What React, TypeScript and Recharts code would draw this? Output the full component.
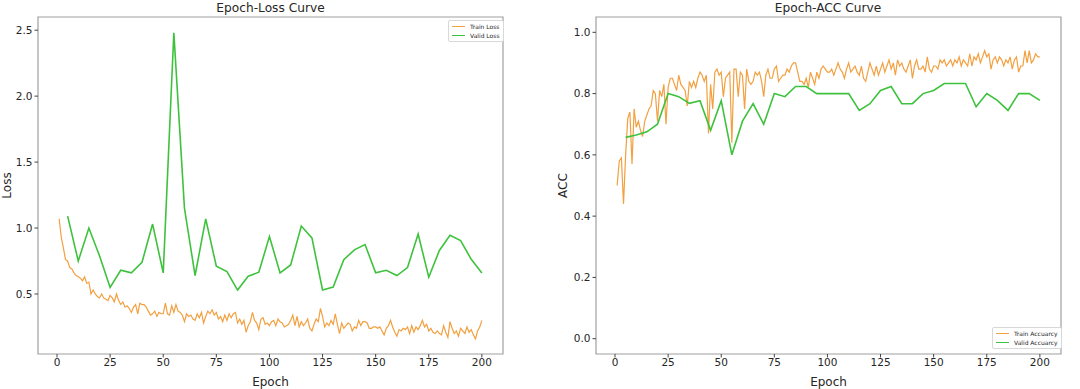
import React from 'react';
import { LineChart, Line, XAxis, YAxis, ReferenceArea, Legend } from 'recharts';

const epochs: number[] = Array.from({ length: 200 }, (_, i) => i + 1);
const validEpochs: number[] = [5, 10, 15, 20, 25, 30, 35, 40, 45, 50, 55, 60, 65, 70, 75, 80, 85, 90, 95, 100, 105, 110, 115, 120, 125, 130, 135, 140, 145, 150, 155, 160, 165, 170, 175, 180, 185, 190, 195, 200];

const trainLoss: number[] = [
  1.07, 0.93, 0.85, 0.76, 0.75, 0.70, 0.69, 0.66, 0.64, 0.63,
  0.62, 0.60, 0.63, 0.58, 0.59, 0.50, 0.53, 0.50, 0.48, 0.47,
  0.50, 0.47, 0.46, 0.45, 0.49, 0.47, 0.44, 0.50, 0.45, 0.42,
  0.44, 0.40, 0.41, 0.39, 0.36, 0.40, 0.42, 0.35, 0.43, 0.42,
  0.42, 0.40, 0.37, 0.34, 0.35, 0.37, 0.33, 0.36, 0.35, 0.35,
  0.43, 0.35, 0.34, 0.41, 0.36, 0.42, 0.37, 0.36, 0.34, 0.29,
  0.35, 0.33, 0.34, 0.31, 0.30, 0.35, 0.32, 0.36, 0.28, 0.33,
  0.37, 0.35, 0.38, 0.34, 0.36, 0.31, 0.33, 0.29, 0.34, 0.30,
  0.35, 0.32, 0.35, 0.36, 0.28, 0.31, 0.27, 0.30, 0.21, 0.26,
  0.29, 0.36, 0.30, 0.28, 0.23, 0.31, 0.32, 0.27, 0.28, 0.26,
  0.29, 0.30, 0.26, 0.31, 0.29, 0.28, 0.25, 0.26, 0.27, 0.30,
  0.34, 0.26, 0.33, 0.25, 0.29, 0.26, 0.28, 0.31, 0.24, 0.22,
  0.27, 0.31, 0.29, 0.39, 0.33, 0.25, 0.28, 0.26, 0.30, 0.27,
  0.35, 0.27, 0.20, 0.28, 0.24, 0.26, 0.28, 0.27, 0.22, 0.25,
  0.24, 0.30, 0.26, 0.29, 0.29, 0.28, 0.24, 0.24, 0.25, 0.25,
  0.24, 0.25, 0.22, 0.19, 0.24, 0.26, 0.30, 0.25, 0.21, 0.18,
  0.23, 0.22, 0.24, 0.23, 0.25, 0.20, 0.26, 0.21, 0.25, 0.23,
  0.26, 0.30, 0.25, 0.27, 0.22, 0.24, 0.21, 0.20, 0.22, 0.20,
  0.19, 0.26, 0.21, 0.17, 0.29, 0.24, 0.20, 0.22, 0.18, 0.24,
  0.22, 0.20, 0.25, 0.21, 0.23, 0.19, 0.16, 0.22, 0.25, 0.30,
];

const validLoss: number[] = [
  1.09, 0.75, 1.0, 0.79, 0.55, 0.68, 0.66, 0.74, 1.03, 0.66,
  2.48, 1.15, 0.64, 1.07, 0.71, 0.67, 0.53, 0.635, 0.665, 0.935,
  0.66, 0.72, 1.015, 0.925, 0.53, 0.553, 0.76, 0.835, 0.875, 0.66,
  0.68, 0.64, 0.70, 0.955, 0.627, 0.83, 0.945, 0.905, 0.763, 0.66,
];

const trainAcc: number[] = [
  0.50, 0.58, 0.59, 0.44, 0.60, 0.72, 0.74, 0.57, 0.75, 0.69,
  0.71, 0.68, 0.66, 0.71, 0.73, 0.75, 0.76, 0.81, 0.80, 0.71,
  0.81, 0.79, 0.83, 0.70, 0.82, 0.85, 0.85, 0.83, 0.81, 0.86,
  0.83, 0.82, 0.81, 0.76, 0.84, 0.82, 0.84, 0.82, 0.85, 0.87,
  0.86, 0.84, 0.86, 0.67, 0.83, 0.75, 0.87, 0.88, 0.86, 0.87,
  0.79, 0.85, 0.86, 0.87, 0.64, 0.88, 0.88, 0.79, 0.87, 0.86,
  0.75, 0.88, 0.84, 0.83, 0.84, 0.87, 0.86, 0.87, 0.84, 0.79,
  0.86, 0.88, 0.85, 0.85, 0.88, 0.89, 0.84, 0.85, 0.86, 0.86,
  0.88, 0.87, 0.89, 0.90, 0.90, 0.87, 0.84, 0.84, 0.83, 0.85,
  0.82, 0.87, 0.85, 0.83, 0.87, 0.85, 0.88, 0.89, 0.88, 0.87,
  0.87, 0.88, 0.86, 0.88, 0.90, 0.88, 0.87, 0.85, 0.88, 0.90,
  0.87, 0.88, 0.89, 0.87, 0.86, 0.89, 0.85, 0.84, 0.87, 0.90,
  0.88, 0.86, 0.89, 0.86, 0.88, 0.90, 0.87, 0.89, 0.91, 0.88,
  0.90, 0.86, 0.91, 0.89, 0.90, 0.88, 0.87, 0.89, 0.91, 0.85,
  0.89, 0.91, 0.88, 0.88, 0.89, 0.87, 0.92, 0.88, 0.87, 0.89,
  0.89, 0.88, 0.91, 0.90, 0.91, 0.89, 0.90, 0.91, 0.89, 0.91,
  0.90, 0.92, 0.89, 0.91, 0.90, 0.89, 0.93, 0.89, 0.92, 0.91,
  0.93, 0.90, 0.92, 0.94, 0.92, 0.93, 0.88, 0.91, 0.92, 0.90,
  0.92, 0.91, 0.89, 0.91, 0.90, 0.92, 0.88, 0.91, 0.92, 0.87,
  0.89, 0.89, 0.94, 0.90, 0.94, 0.90, 0.91, 0.93, 0.92, 0.92,
];

const validAcc: number[] = [
  0.657, 0.665, 0.675, 0.70, 0.80, 0.79, 0.768, 0.777, 0.68, 0.777,
  0.60, 0.71, 0.767, 0.70, 0.80, 0.79, 0.823, 0.823, 0.80, 0.80,
  0.80, 0.80, 0.745, 0.767, 0.81, 0.823, 0.767, 0.767, 0.80, 0.81,
  0.833, 0.833, 0.833, 0.757, 0.80, 0.778, 0.745, 0.80, 0.80, 0.778,
];

const xTicks: number[] = [0, 25, 50, 75, 100, 125, 150, 175, 200];
const lossTicks: number[] = [0.5, 1.0, 1.5, 2.0, 2.5];
const accTicks: number[] = [0.0, 0.2, 0.4, 0.6, 0.8, 1.0];

const ORANGE = '#f2a040';
const GREEN = '#3ec23e';
const FONT = 'DejaVu Sans, sans-serif';
const TEXT = '#262626';
const FRAME = '#a0a0a0';

const X_DOMAIN: [number, number] = [-8.95, 209.95];
const LOSS_DOMAIN: [number, number] = [0.045, 2.6];
const ACC_DOMAIN: [number, number] = [-0.05, 1.05];

function buildRows(train: number[], valid: number[]) {
  return epochs.map((e, i) => {
    const vi = validEpochs.indexOf(e);
    return { epoch: e, train: train[i], valid: vi >= 0 ? valid[vi] : null };
  });
}

const lossRows = buildRows(trainLoss, validLoss);
const accRows = buildRows(trainAcc, validAcc);

function LegendBox({ items }: { items: { label: string; color: string }[] }) {
  return (
    <div
      style={{
        border: '1px solid #d8d8d8',
        borderRadius: 2,
        background: '#fff',
        padding: '1px 3px',
        fontFamily: FONT,
        fontSize: 6,
        lineHeight: '9px',
        color: TEXT,
        whiteSpace: 'nowrap',
      }}
    >
      {items.map((it) => (
        <div key={it.label} style={{ display: 'flex', alignItems: 'center' }}>
          <span style={{ display: 'inline-block', width: 13, height: 0, borderTop: `1.3px solid ${it.color}`, marginRight: 5 }} />
          <span>{it.label}</span>
        </div>
      ))}
    </div>
  );
}

const tickStyle = { fill: TEXT, fontSize: 10.5, fontFamily: FONT };
const labelStyle = { fill: TEXT, fontSize: 12, fontFamily: FONT };

interface PanelProps {
  rows: { epoch: number; train: number; valid: number | null }[];
  yDomain: [number, number];
  yTicks: number[];
  yAxisWidth: number;
  marginRight: number;
  title: string;
  titleX: number;
  yLabel: string;
  yLabelOffset: number;
  trainName: string;
  validName: string;
  legendLeft: number;
  legendTop: number;
}

function Panel(p: PanelProps) {
  return (
    <LineChart width={540} height={389} data={p.rows} margin={{ top: 17, right: p.marginRight, bottom: 0, left: 0 }}>
      <XAxis
        dataKey="epoch"
        type="number"
        domain={X_DOMAIN}
        ticks={xTicks}
        allowDataOverflow
        height={35}
        axisLine={false}
        tickLine={{ stroke: '#444' }}
        tickSize={3.5}
        tickMargin={1}
        tick={tickStyle}
        label={{ value: 'Epoch', position: 'insideBottom', offset: 3, style: labelStyle }}
      />
      <YAxis
        type="number"
        domain={p.yDomain}
        ticks={p.yTicks}
        allowDataOverflow
        width={p.yAxisWidth}
        axisLine={false}
        tickLine={{ stroke: '#444' }}
        tickSize={3.5}
        tickMargin={2}
        tick={tickStyle}
        tickFormatter={(v: number) => v.toFixed(1)}
        label={{ value: p.yLabel, angle: -90, position: 'insideLeft', offset: p.yLabelOffset, style: { ...labelStyle, textAnchor: 'middle' } }}
      />
      <ReferenceArea
        x1={X_DOMAIN[0]}
        x2={X_DOMAIN[1]}
        y1={p.yDomain[0]}
        y2={p.yDomain[1]}
        fill="none"
        stroke={FRAME}
        strokeWidth={1.2}
        ifOverflow="visible"
      />
      <Line type="linear" dataKey="train" name={p.trainName} stroke={ORANGE} strokeWidth={1.2} dot={false} isAnimationActive={false} />
      <Line type="linear" dataKey="valid" name={p.validName} stroke={GREEN} strokeWidth={1.6} dot={false} connectNulls isAnimationActive={false} />
      <Legend
        layout="vertical"
        align="center"
        verticalAlign="middle"
        wrapperStyle={{ position: 'absolute', left: p.legendLeft, top: p.legendTop, width: 'auto', height: 'auto' }}
        content={() => (
          <LegendBox
            items={[
              { label: p.trainName, color: ORANGE },
              { label: p.validName, color: GREEN },
            ]}
          />
        )}
      />
      <text x={p.titleX} y={12} textAnchor="middle" fontSize={12.2} fontFamily={FONT} fill={TEXT}>
        {p.title}
      </text>
    </LineChart>
  );
}

export default function App() {
  return (
    <div style={{ position: 'absolute', left: 0, top: 0, width: 1080, height: 389, background: '#fff', overflow: 'hidden' }}>
      <div style={{ position: 'absolute', left: 0, top: 0 }}>
        <Panel
          rows={lossRows}
          yDomain={LOSS_DOMAIN}
          yTicks={lossTicks}
          yAxisWidth={38}
          marginRight={37}
          title="Epoch-Loss Curve"
          titleX={270.5}
          yLabel="Loss"
          yLabelOffset={7}
          trainName="Train Loss"
          validName="Valid Loss"
          legendLeft={448}
          legendTop={20}
        />
      </div>
      <div style={{ position: 'absolute', left: 540, top: 0 }}>
        <Panel
          rows={accRows}
          yDomain={ACC_DOMAIN}
          yTicks={accTicks}
          yAxisWidth={56}
          marginRight={19}
          title="Epoch-ACC Curve"
          titleX={288}
          yLabel="ACC"
          yLabelOffset={23}
          trainName="Train Accuarcy"
          validName="Valid Accuarcy"
          legendLeft={452}
          legendTop={327}
        />
      </div>
    </div>
  );
}
